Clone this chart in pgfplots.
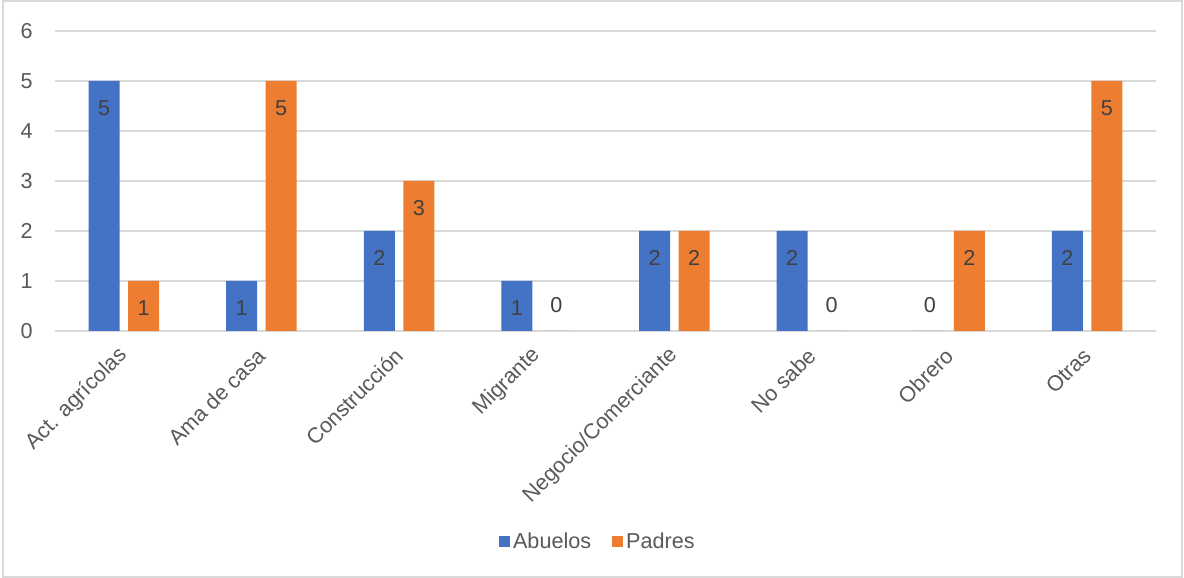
\documentclass[border=0pt]{standalone}
\usepackage{fontspec}
\setmainfont{Liberation Sans}
\usepackage{pgfplots}
\pgfplotsset{compat=1.18}
\definecolor{cblue}{HTML}{4472C4}
\definecolor{corange}{HTML}{ED7D31}
\definecolor{ctext}{HTML}{595959}
\definecolor{clabel}{HTML}{404040}
\definecolor{cgrid}{HTML}{D9D9D9}
\begin{document}
\begin{tikzpicture}
\useasboundingbox (0,0) rectangle (592pt,289pt);
\draw[cgrid, line width=0.75pt] (1.5pt,0.5pt) rectangle (591pt,288.5pt);
\begin{axis}[
  scale only axis, width=550.5pt, height=150pt,
  at={(27.5pt,123.5pt)}, anchor=south west,
  ybar, bar width=15.5pt,
  xmin=-0.5, xmax=7.5, ymin=0, ymax=6,
  xtick={0,...,7},
  xticklabels={Act. agrícolas, Ama de casa, Construcción, Migrante, Negocio/Comerciante, No sabe, Obrero, Otras},
  ytick={0,...,6},
  axis line style={draw=none},
  major tick length=0pt,
  ymajorgrids, grid style={draw=cgrid, line width=0.75pt},
  /pgf/number format/assume math mode=true,
  tick label style={font=\fontsize{10.8}{12}\selectfont, text=ctext},
  yticklabel style={anchor=east, inner sep=0pt, xshift=-11pt},
  xticklabel style={inner sep=0pt, anchor=east, yshift=-10.5pt, rotate=45},
  legend style={at={(axis description cs:0.4935,-0.703)}, anchor=center, draw=none, fill=none,
    legend columns=2, font=\fontsize{10.8}{12}\selectfont, text=ctext,
    /tikz/every even column/.append style={column sep=9pt},
    nodes={inner sep=1.5pt}},
  legend image code/.code={\fill[#1] (0pt,-2.75pt) rectangle (5.5pt,2.75pt);},
  nodes near coords,
  visualization depends on=rawy\as\rawy,
  nodes near coords style={anchor=center, font=\fontsize{10.8}{12}\selectfont, text=clabel,
    yshift={ifthenelse(\rawy>0.5,-13.5,13)}},
]
\addplot[fill=cblue, draw=none, bar shift=-9.875pt] coordinates {(0,5) (1,1) (2,2) (3,1) (4,2) (5,2) (6,0) (7,2)};
\addplot[fill=corange, draw=none, bar shift=9.875pt] coordinates {(0,1) (1,5) (2,3) (3,0) (4,2) (5,0) (6,2) (7,5)};
\legend{Abuelos, Padres}
\end{axis}
\end{tikzpicture}
\end{document}
